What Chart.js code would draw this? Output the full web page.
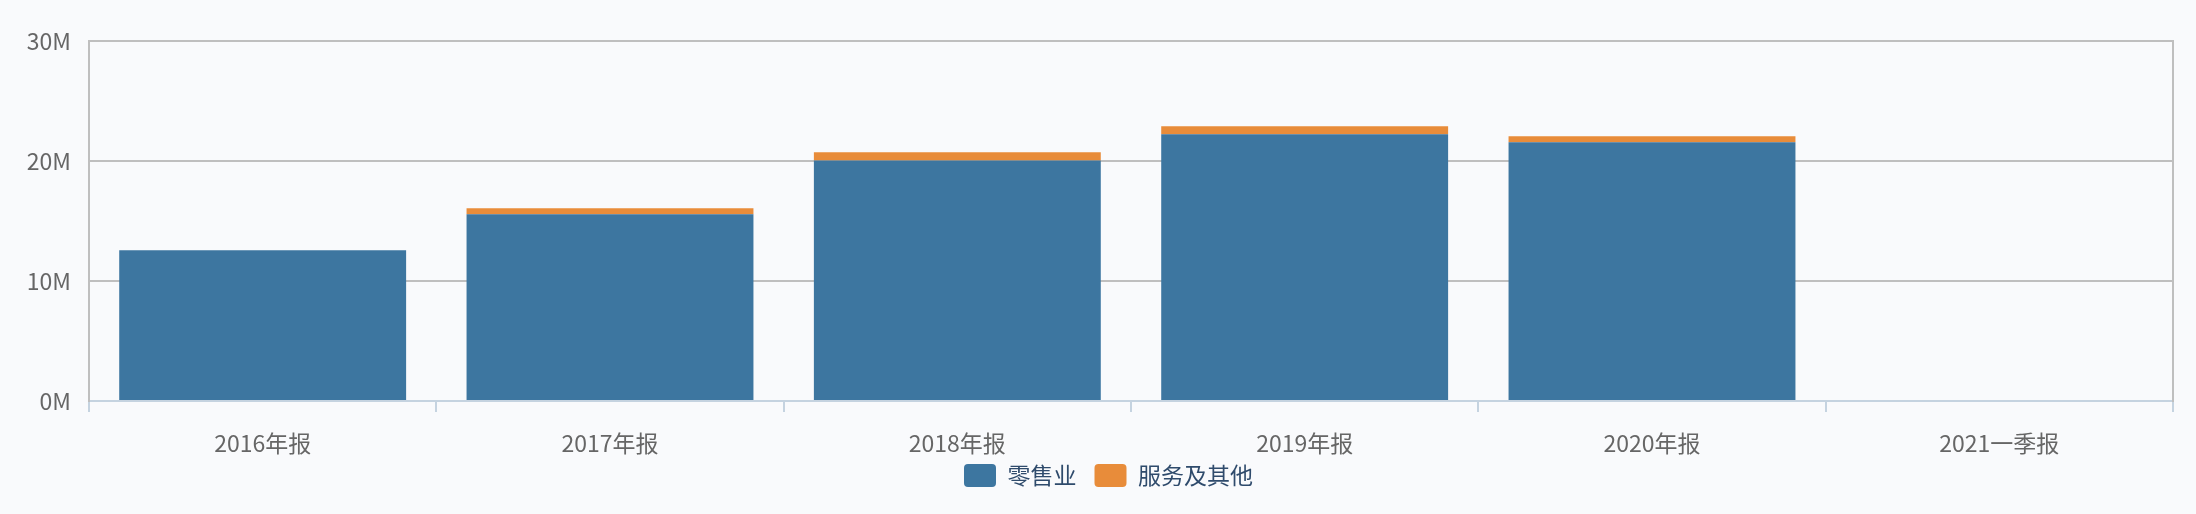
<!DOCTYPE html>
<html>
<head>
<meta charset="utf-8">
<script src="https://cdn.jsdelivr.net/npm/chart.js@4.4.1/dist/chart.umd.min.js"></script>
<style>
  html, body { margin: 0; padding: 0; background: #f9fafc; }
  #wrap { width: 2196px; height: 514px; }
</style>
</head>
<body>
<div id="wrap"><canvas id="c" width="2196" height="514"></canvas></div>
<script>
const categories = ['2016年报', '2017年报', '2018年报', '2019年报', '2020年报', '2021一季报'];
const retailValues = [12560000, 15560000, 20050000, 22220000, 21560000, null];
const serviceValues = [0, 500000, 670000, 670000, 500000, null];
const yTickValues = [0, 10000000, 20000000, 30000000];
const seriesNames = ['零售业', '服务及其他'];

const FONT = '"Noto Sans CJK SC", "Noto Sans", sans-serif';

// Nudge the legend block (Chart.js ties its vertical and horizontal spacing together).
const legendNudge = {
  id: 'legendNudge',
  afterLayout(chart) {
    const L = chart.legend;
    if (!L) return;
    const dy = -11, dx = 22;
    L.top += dy; L.bottom += dy;
    L.left += dx; L.right += dx;
  }
};

new Chart(document.getElementById('c'), {
  type: 'bar',
  data: {
    labels: categories,
    datasets: [
      { label: seriesNames[0], data: retailValues, backgroundColor: '#3d76a0', stack: 's' },
      { label: seriesNames[1], data: serviceValues, backgroundColor: '#e88c3a', stack: 's' }
    ]
  },
  plugins: [legendNudge],
  options: {
    responsive: false,
    animation: false,
    events: [],
    barPercentage: 0.826,
    categoryPercentage: 1.0,
    layout: { padding: { left: 0, right: 23, top: 41, bottom: 6 } },
    plugins: {
      legend: {
        position: 'bottom',
        labels: {
          boxWidth: 32,
          boxHeight: 23,
          useBorderRadius: true,
          borderRadius: 4,
          padding: 18,
          color: '#2f4b6c',
          font: { family: FONT, size: 23 }
        }
      },
      tooltip: { enabled: false }
    },
    scales: {
      x: {
        stacked: true,
        grid: {
          display: true,
          drawOnChartArea: false,
          color: '#c5d3e0',
          tickColor: '#c5d3e0',
          tickLength: 11,
          lineWidth: 2
        },
        border: { display: true, color: '#c5d3e0', width: 2 },
        ticks: { color: '#666666', padding: 17, font: { family: FONT, size: 23, lineHeight: 1.2 } },
        afterFit: (s) => { s.height = 56; }
      },
      y: {
        stacked: true,
        min: 0,
        max: 30000000,
        afterBuildTicks: (s) => { s.ticks = yTickValues.map(v => ({ value: v })); },
        grid: {
          drawTicks: false,
          lineWidth: 2,
          color: (ctx) => (ctx.tick && ctx.tick.value === 0) ? 'rgba(0,0,0,0)' : '#bfbfbf'
        },
        border: { display: true, color: '#bfbfbf', width: 2 },
        ticks: {
          color: '#666666',
          padding: 18,
          font: { family: FONT, size: 23 },
          callback: (v) => (v / 1000000) + 'M'
        },
        afterFit: (s) => { s.width = 89; }
      },
      y2: {
        position: 'right',
        min: 0,
        max: 30000000,
        ticks: { display: false },
        grid: { drawOnChartArea: false, drawTicks: false },
        border: { display: true, color: '#bfbfbf', width: 2 },
        afterFit: (s) => { s.width = 0; }
      }
    }
  }
});
</script>
</body>
</html>
